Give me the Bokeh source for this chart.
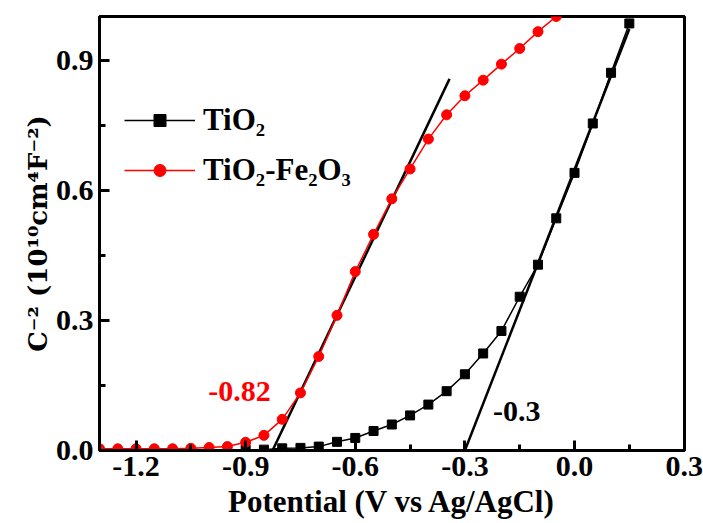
from bokeh.plotting import figure
from bokeh.models import Range1d, FixedTicker, PrintfTickFormatter, Legend, LegendItem, Label
from bokeh.embed import file_html
from bokeh.resources import INLINE

# ---- data ----
potential_tio2 = [-0.90, -0.85, -0.80, -0.75, -0.70, -0.65, -0.60, -0.55, -0.50, -0.45, -0.40,
                  -0.35, -0.30, -0.25, -0.20, -0.15, -0.10, -0.05, 0.00, 0.05, 0.10, 0.15]
c2_tio2 = [0.002, 0.002, 0.005, 0.006, 0.009, 0.020, 0.029, 0.045, 0.060, 0.081, 0.106,
           0.137, 0.176, 0.224, 0.276, 0.355, 0.429, 0.536, 0.641, 0.755, 0.872, 0.986]

potential_fe = [-1.30, -1.25, -1.20, -1.15, -1.10, -1.05, -1.00, -0.95, -0.90, -0.85, -0.80,
                -0.75, -0.70, -0.65, -0.60, -0.55, -0.50, -0.45, -0.40, -0.35, -0.30, -0.25,
                -0.20, -0.15, -0.10, -0.05]
c2_fe = [0.004, 0.004, 0.004, 0.004, 0.004, 0.005, 0.007, 0.009, 0.019, 0.035, 0.072,
         0.133, 0.217, 0.312, 0.413, 0.499, 0.581, 0.650, 0.719, 0.775, 0.819, 0.855,
         0.892, 0.928, 0.967, 1.002]

tangent_fe_x = [-0.831, -0.342]
tangent_fe_y = [-0.008, 0.858]
tangent_tio2_x = [-0.300, 0.150]
tangent_tio2_y = [0.000, 0.973]

x_ticks = [-1.2, -0.9, -0.6, -0.3, 0.0, 0.3]
x_minor = [-1.05, -0.75, -0.45, -0.15, 0.15]
y_ticks = [0.0, 0.3, 0.6, 0.9]
y_minor = [0.15, 0.45, 0.75]

series_labels = ["TiO\u2082", "TiO\u2082-Fe\u2082O\u2083"]
flatband_labels = ["-0.82", "-0.3"]
x_title = "Potential (V vs Ag/AgCl)"
y_title = "C\u207b\u00b2 (10\u00b9\u2070cm\u2074F\u207b\u00b2)"

FONT = "Liberation Serif"
RED = "#FF0000"

p = figure(width=703, height=523, output_backend="svg", toolbar_location=None,
           x_range=Range1d(-1.3, 0.301), y_range=Range1d(0.0, 1.002),
           min_border_left=99, min_border_right=19, min_border_top=16, min_border_bottom=73)
p.grid.visible = False
p.outline_line_color = "black"
p.outline_line_width = 3
p.outline_line_alpha = 1.0

p.xaxis[0].ticker = FixedTicker(ticks=x_ticks, minor_ticks=x_minor)
p.yaxis[0].ticker = FixedTicker(ticks=y_ticks, minor_ticks=y_minor)
p.xaxis.axis_label = x_title
p.yaxis.axis_label = y_title

for ax in (p.xaxis[0], p.yaxis[0]):
    ax.formatter = PrintfTickFormatter(format="%.1f")
    ax.axis_line_width = 3
    ax.axis_line_color = "black"
    ax.major_tick_in = 10
    ax.major_tick_out = 0
    ax.minor_tick_in = 6
    ax.minor_tick_out = 0
    ax.major_tick_line_width = 3
    ax.minor_tick_line_width = 3
    ax.major_tick_line_color = "black"
    ax.minor_tick_line_color = "black"
    ax.major_label_text_font = FONT
    ax.major_label_text_font_style = "bold"
    ax.major_label_text_font_size = "30px"
    ax.major_label_text_color = "black"
    ax.axis_label_text_font = FONT
    ax.axis_label_text_font_style = "bold"
    ax.axis_label_text_font_size = "31px"
    ax.axis_label_text_color = "black"
p.xaxis[0].major_label_standoff = 6
p.xaxis[0].axis_label_standoff = 5
p.yaxis[0].major_label_standoff = 6
p.yaxis[0].axis_label_standoff = 0
p.yaxis[0].axis_label_text_font = "DejaVu Serif"
p.yaxis[0].axis_label_text_font_size = "26px"

# tangent lines
p.line(tangent_fe_x, tangent_fe_y, line_color="black", line_width=2.5)
p.line(tangent_tio2_x, tangent_tio2_y, line_color="black", line_width=2.5)

# series
r_t_line = p.line(potential_tio2, c2_tio2, line_color="black", line_width=1.5)
r_t_pts = p.scatter(potential_tio2, c2_tio2, marker="square", size=9,
                    fill_color="black", line_color="black")
r_f_line = p.line(potential_fe, c2_fe, line_color=RED, line_width=1.5)
r_f_pts = p.scatter(potential_fe, c2_fe, marker="circle", size=10,
                    fill_color=RED, line_color=RED)

legend = Legend(items=[LegendItem(label=series_labels[0], renderers=[r_t_line, r_t_pts]),
                       LegendItem(label=series_labels[1], renderers=[r_f_line, r_f_pts])],
                location=(25, 262), glyph_width=71, glyph_height=30, label_height=30,
                label_standoff=8, spacing=14, padding=0, margin=0,
                border_line_alpha=0, background_fill_alpha=0,
                label_text_font=FONT, label_text_font_style="bold",
                label_text_font_size="31px", label_text_color="black")
p.add_layout(legend)

p.add_layout(Label(x=-0.917, y=0.136, text=flatband_labels[0], text_align="center",
                   text_baseline="middle", text_font=FONT, text_font_style="bold",
                   text_font_size="30px", text_color=RED))
p.add_layout(Label(x=-0.158, y=0.090, text=flatband_labels[1], text_align="center",
                   text_baseline="middle", text_font=FONT, text_font_style="bold",
                   text_font_size="30px", text_color="black"))

open("out.html", "w").write(file_html(p, INLINE))
